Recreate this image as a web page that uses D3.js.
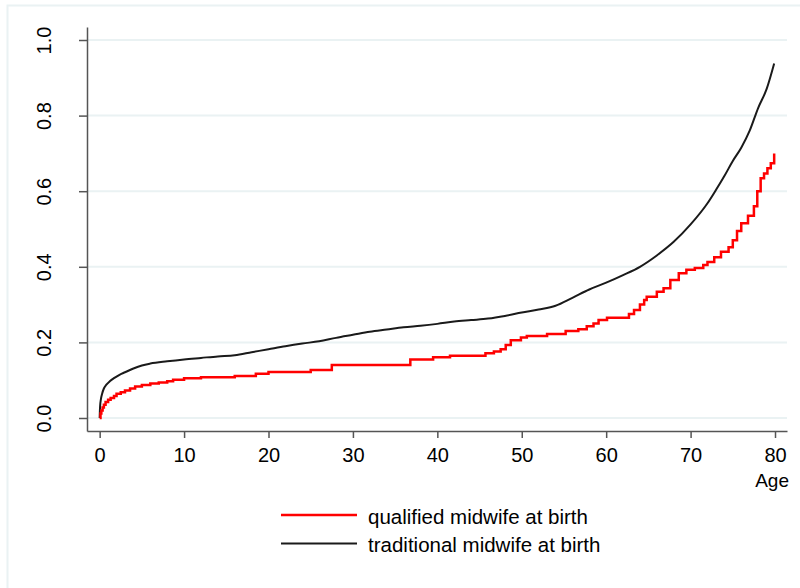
<!DOCTYPE html>
<html>
<head>
<meta charset="utf-8">
<script src="https://cdn.jsdelivr.net/npm/d3@7"></script>
<style>
  body { margin: 0; background: #fff; }
  svg { display: block; font-family: "Liberation Sans", Arial, sans-serif; }
</style>
</head>
<body>
<div id="chart"></div>
<script>
// Cumulative hazard
var blackAge = [0, 0.05, 0.15, 0.3, 0.5, 0.8, 1.2, 1.8, 2.4, 3, 4, 5, 6, 8, 10, 12, 14, 16, 18, 20,
  22, 24, 26, 28, 30, 32, 34, 36, 38, 40, 42, 44, 46, 48, 50, 52, 54, 56, 58, 60,
  62, 64, 66, 68, 70, 72, 73, 74, 75, 76, 77, 78, 79, 79.9];
var blackVal = [0, 0.03, 0.05, 0.065, 0.078, 0.088, 0.097, 0.107, 0.115, 0.121, 0.131, 0.139, 0.144, 0.150, 0.155, 0.159, 0.163, 0.166, 0.174, 0.182,
  0.190, 0.197, 0.203, 0.212, 0.220, 0.228, 0.234, 0.240, 0.244, 0.249, 0.255, 0.259, 0.263, 0.270, 0.279, 0.287, 0.297, 0.318, 0.340, 0.358,
  0.378, 0.400, 0.430, 0.466, 0.512, 0.568, 0.603, 0.640, 0.680, 0.715, 0.760, 0.820, 0.870, 0.938];

var redAge = [0, 0.1, 0.2, 0.35, 0.5, 0.7, 1.0, 1.3, 1.7, 2.0, 2.5, 3.0, 3.6, 4.2, 5.0, 6.0, 7.0, 8.0, 8.7, 10.0,
  12, 16, 18.5, 20, 25, 27.5, 36.8, 39.5, 41.5, 45.7, 46.7, 47.5, 48.1, 48.7, 49.9, 50.6, 53.0, 55.2, 56.7, 57.7,
  58.5, 59.1, 60.1, 62.7, 63.3, 64.0, 64.5, 64.8, 66.0, 66.8, 67.6, 68.6, 69.5, 70.5, 71.5, 72.0, 72.8, 73.6, 74.5, 75.0,
  75.5, 76.0, 76.8, 77.5, 77.9, 78.3, 78.7, 79.1, 79.5, 79.9];
var redVal = [0, 0.012, 0.02, 0.028, 0.035, 0.042, 0.048, 0.053, 0.058, 0.064, 0.068, 0.073, 0.078, 0.083, 0.087, 0.091, 0.094, 0.097, 0.101, 0.105,
  0.108, 0.111, 0.117, 0.122, 0.127, 0.140, 0.155, 0.161, 0.165, 0.171, 0.176, 0.182, 0.193, 0.206, 0.213, 0.217, 0.222, 0.230, 0.235, 0.243,
  0.250, 0.259, 0.265, 0.275, 0.286, 0.300, 0.312, 0.321, 0.334, 0.343, 0.365, 0.383, 0.392, 0.397, 0.405, 0.413, 0.425, 0.440, 0.452, 0.470,
  0.495, 0.515, 0.535, 0.560, 0.600, 0.634, 0.647, 0.661, 0.674, 0.700];

var xTicks = [0, 10, 20, 30, 40, 50, 60, 70, 80];
var yTicks = [0, 0.2, 0.4, 0.6, 0.8, 1.0];
var legendLabels = ["qualified midwife at birth", "traditional midwife at birth"];
var xTitle = "Age";

var width = 800, height = 588;

var svg = d3.select("#chart")
  .append("svg")
    .attr("width", width)
    .attr("height", height);

// light outer frame (Stata graph region)
svg.append("rect")
  .attr("x", 7.5).attr("y", 5.5)
  .attr("width", 820).attr("height", 620)
  .attr("fill", "none")
  .attr("stroke", "#eaf2f3")
  .attr("stroke-width", 2);

var x = d3.scaleLinear().domain([-1.5, 81.42]).range([87, 787]);
var y = d3.scaleLinear().domain([-0.0344, 1.0344]).range([431, 27]);

// gridlines
svg.selectAll(".grid")
  .data(yTicks)
  .enter()
  .append("line")
    .attr("class", "grid")
    .attr("x1", x.range()[0]).attr("x2", x.range()[1])
    .attr("y1", function(d) { return y(d); })
    .attr("y2", function(d) { return y(d); })
    .attr("stroke", "#eaf2f3")
    .attr("stroke-width", 2);

// Y axis
var yAxis = svg.append("g")
  .attr("transform", "translate(87,0)")
  .call(d3.axisLeft(y).tickValues(yTicks).tickSize(8).tickSizeOuter(0).tickFormat(d3.format(".1f")));
yAxis.selectAll("text")
  .attr("x", null).attr("dy", null)
  .attr("transform", "translate(-36,0) rotate(-90)")
  .attr("text-anchor", "middle")
  .attr("font-size", 20)
  .attr("fill", "#000");

// X axis
var xAxis = svg.append("g")
  .attr("transform", "translate(0,431)")
  .call(d3.axisBottom(x).tickValues(xTicks).tickSize(7).tickSizeOuter(0));
xAxis.selectAll("text")
  .attr("y", 31).attr("dy", null)
  .attr("font-size", 20)
  .attr("fill", "#000");

[yAxis, xAxis].forEach(function(g) {
  g.select(".domain").attr("stroke", "#555").attr("stroke-width", 1.5);
  g.selectAll(".tick line").attr("stroke", "#555").attr("stroke-width", 1.5);
});

svg.append("text")
  .attr("x", 789).attr("y", 487)
  .attr("text-anchor", "end")
  .attr("font-size", 19)
  .text(xTitle);

// lines
var blackData = blackAge.map(function(a, i) { return {age: a, v: blackVal[i]}; });
var redData = redAge.map(function(a, i) { return {age: a, v: redVal[i]}; });

svg.append("path")
  .datum(blackData)
  .attr("fill", "none")
  .attr("stroke", "#1a1a1a")
  .attr("stroke-width", 2)
  .attr("stroke-linejoin", "round")
  .attr("d", d3.line()
    .x(function(d) { return x(d.age); })
    .y(function(d) { return y(d.v); })
    .curve(d3.curveMonotoneX));

svg.append("path")
  .datum(redData)
  .attr("fill", "none")
  .attr("stroke", "#ff0000")
  .attr("stroke-width", 2.5)
  .attr("d", d3.line()
    .x(function(d) { return x(d.age); })
    .y(function(d) { return y(d.v); })
    .curve(d3.curveStepAfter));

// legend
var legendColors = ["#ff0000", "#1a1a1a"];
var legend = svg.selectAll(".legend")
  .data(legendLabels)
  .enter()
  .append("g")
    .attr("class", "legend")
    .attr("transform", function(d, i) { return "translate(0," + (515 + i * 28.5) + ")"; });
legend.append("line")
  .attr("x1", 281).attr("x2", 357)
  .attr("stroke", function(d, i) { return legendColors[i]; })
  .attr("stroke-width", function(d, i) { return i === 0 ? 2.5 : 2; });
legend.append("text")
  .attr("x", 368).attr("y", 8.5)
  .attr("font-size", 20.5)
  .text(function(d) { return d; });
</script>
</body>
</html>
